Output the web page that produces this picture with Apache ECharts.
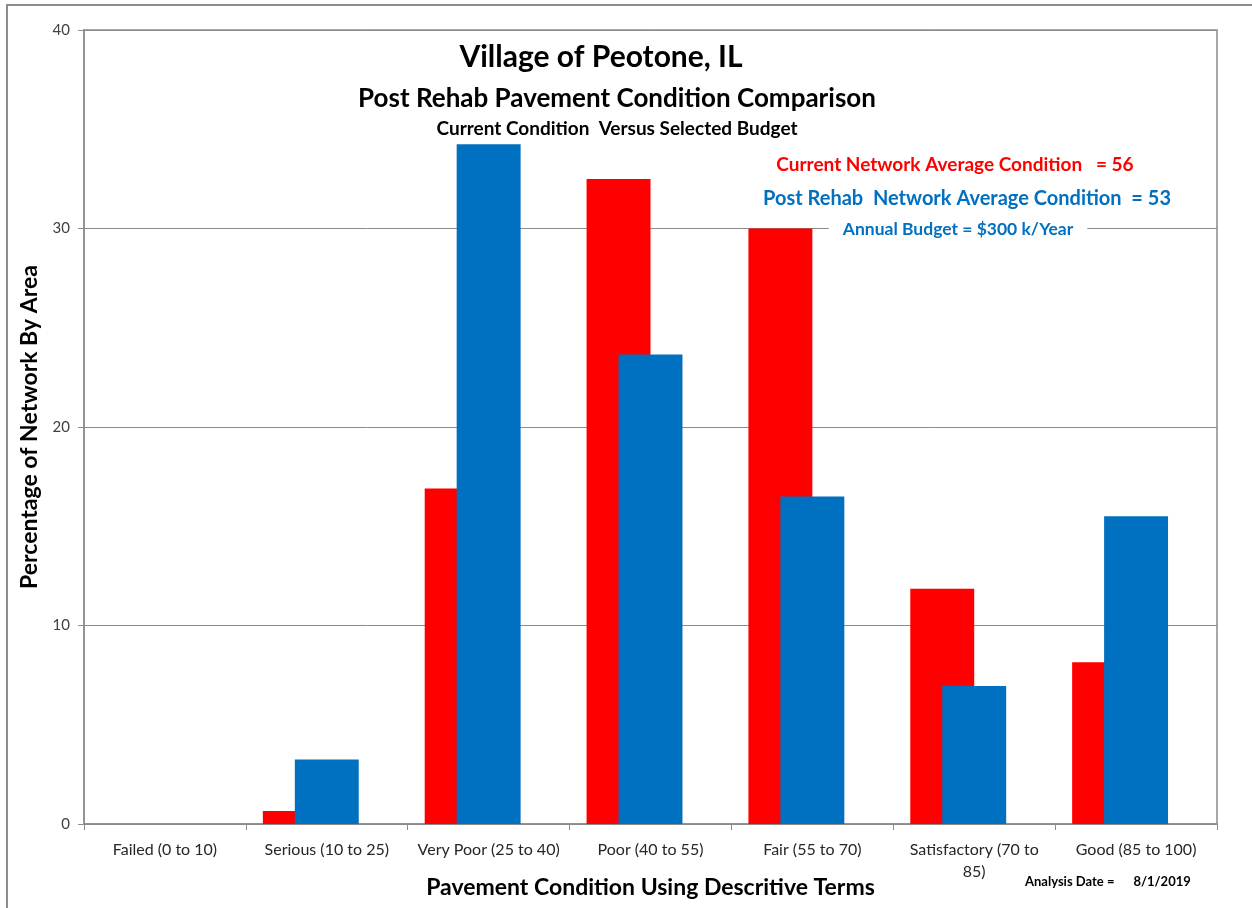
<!DOCTYPE html>
<html>
<head>
<meta charset="utf-8">
<script src="https://cdn.jsdelivr.net/npm/echarts@6/dist/echarts.min.js"></script>
<style>
  html, body { margin: 0; padding: 0; background: #fff; }
  #chart { width: 1252px; height: 908px; }
</style>
</head>
<body>
<div id="chart"></div>
<script>
// categories (pavement condition bands)
var categories = [
  "Failed (0 to 10)",
  "Serious (10 to 25)",
  "Very Poor (25 to 40)",
  "Poor (40 to 55)",
  "Fair (55 to 70)",
  "Satisfactory (70 to 85)",
  "Good (85 to 100)"
];
// current condition, % of network by area
var currentValues = [0, 0.65, 16.9, 32.5, 30.0, 11.85, 8.15];
// post rehab condition, % of network by area
var postRehabValues = [0, 3.25, 34.25, 23.65, 16.5, 6.95, 15.5];
var yTicks = [0, 10, 20, 30, 40];

var FONT = "Lato, 'Open Sans', sans-serif";

const chart = echarts.init(document.getElementById("chart"));
chart.setOption({
  animation: false,
  grid: {
    left: 84,
    right: 35,
    top: 30,
    bottom: 84,
    outerBoundsMode: "none",
    show: true,
    borderColor: "#8c8c8c",
    borderWidth: 1.5
  },
  xAxis: {
    type: "category",
    data: categories,
    name: "Pavement Condition Using Descritive Terms",
    nameLocation: "middle",
    nameGap: 52,
    nameMoveOverlap: false,
    nameTextStyle: {
      fontFamily: FONT,
      fontSize: 23,
      fontWeight: "bold",
      color: "#000"
    },
    axisLine: { lineStyle: { color: "#8c8c8c", width: 1.5 } },
    axisTick: { show: true, length: 6, lineStyle: { color: "#8c8c8c" } },
    axisLabel: {
      interval: 0,
      fontFamily: FONT,
      fontSize: 16,
      color: "#262626",
      margin: 15,
      lineHeight: 22,
      formatter: function(val) {
        return val == "Satisfactory (70 to 85)" ? "Satisfactory (70 to\n85)" : val;
      }
    }
  },
  yAxis: {
    type: "value",
    min: yTicks[0],
    max: yTicks[yTicks.length - 1],
    interval: 10,
    name: "Percentage of Network By Area",
    nameLocation: "middle",
    nameGap: 43,
    nameMoveOverlap: false,
    nameTextStyle: {
      fontFamily: FONT,
      fontSize: 23,
      fontWeight: "bold",
      color: "#000"
    },
    axisLine: { show: true, lineStyle: { color: "#8c8c8c", width: 1.5 } },
    axisTick: { show: true, length: 6, lineStyle: { color: "#8c8c8c" } },
    axisLabel: {
      fontFamily: FONT,
      fontSize: 15,
      color: "#404040",
      margin: 14
    },
    splitLine: { show: true, lineStyle: { color: "#8c8c8c", width: 1 } }
  },
  series: [
    {
      name: "Current",
      type: "bar",
      barWidth: "39.5%",
      barGap: "-50%",
      itemStyle: { color: "#ff0000" },
      data: currentValues
    },
    {
      name: "Post Rehab",
      type: "bar",
      barWidth: "39.5%",
      barGap: "-50%",
      itemStyle: { color: "#0070c0" },
      data: postRehabValues
    },
    {
      // empty placeholder so the pair sits left of the category centre
      name: "spacer",
      type: "bar",
      barWidth: "39.5%",
      barGap: "-50%",
      silent: true,
      data: categories.map(function() { return "-"; })
    }
  ],
  graphic: [
    {
      type: "rect",
      shape: { x: 7, y: 5, width: 1260, height: 920 },
      style: { fill: "none", stroke: "#8c8c8c", lineWidth: 2 },
      silent: true
    },
    {
      type: "text",
      x: 601, y: 57,
      style: {
        text: "Village of Peotone, IL",
        font: "bold 30px " + FONT,
        fill: "#000",
        align: "center",
        verticalAlign: "middle"
      }
    },
    {
      type: "text",
      x: 617, y: 99,
      style: {
        text: "Post Rehab Pavement Condition Comparison",
        font: "bold 26px " + FONT,
        fill: "#000",
        align: "center",
        verticalAlign: "middle"
      }
    },
    {
      type: "text",
      x: 617, y: 129,
      style: {
        text: "Current Condition  Versus Selected Budget",
        font: "bold 19px " + FONT,
        fill: "#000",
        align: "center",
        verticalAlign: "middle"
      }
    },
    {
      type: "text",
      x: 955, y: 165,
      style: {
        text: "Current Network Average Condition   = 56",
        font: "bold 19px " + FONT,
        fill: "#ff0000",
        align: "center",
        verticalAlign: "middle"
      }
    },
    {
      type: "text",
      x: 967, y: 199,
      style: {
        text: "Post Rehab  Network Average Condition  = 53",
        font: "bold 20px " + FONT,
        fill: "#0070c0",
        align: "center",
        verticalAlign: "middle"
      }
    },
    {
      type: "text",
      x: 958, y: 229,
      z: 100,
      style: {
        text: "Annual Budget = $300 k/Year",
        font: "bold 17.5px " + FONT,
        fill: "#0070c0",
        align: "center",
        verticalAlign: "middle",
        backgroundColor: "#fff",
        padding: [2, 14]
      }
    },
    {
      type: "text",
      x: 1025, y: 882,
      style: {
        text: "Analysis Date =      8/1/2019",
        font: "bold 13px " + FONT,
        fill: "#000",
        align: "left",
        verticalAlign: "middle"
      }
    }
  ]
});
</script>
</body>
</html>
